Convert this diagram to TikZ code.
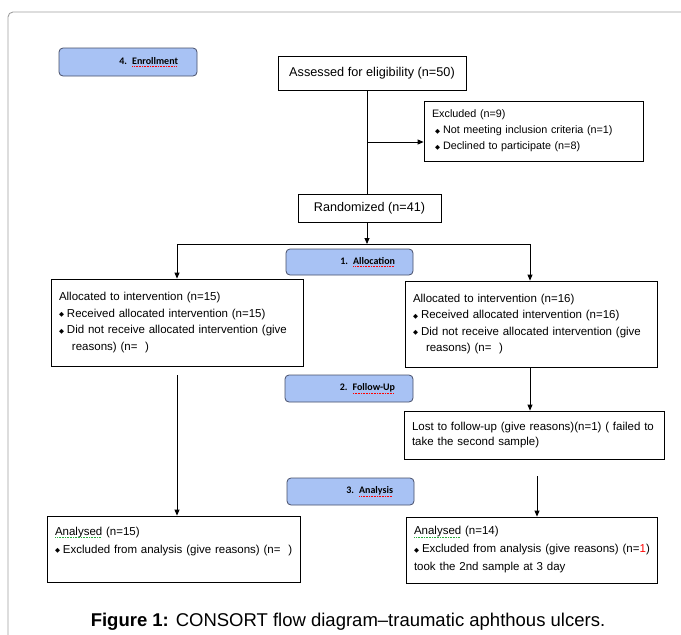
\documentclass[tikz,border=0pt]{standalone}
\usepackage{fontspec}
\setmainfont{Liberation Sans}
\newfontfamily\dejavu{DejaVu Sans}
\newfontfamily\carlito{Carlito}
\usetikzlibrary{arrows.meta}
\definecolor{stagefill}{RGB}{168,194,244}
\definecolor{stageedge}{RGB}{70,78,105}
\definecolor{framegray}{RGB}{160,160,160}
\definecolor{spellgreen}{RGB}{40,170,60}
\newcommand\bul{\raisebox{0.6pt}{\fontsize{6.5}{6.5}\selectfont\dejavu ◆}\hspace{3pt}}
\newsavebox\wavebox
\newcommand\wavy[2]{\sbox\wavebox{#2}\rlap{\usebox\wavebox}{\color{#1}\raisebox{-2.2pt}{\hbox to \wd\wavebox{\leaders\hbox to 1.6pt{\hss\rule{0.9pt}{0.6pt}\hss}\hfill}}}}
\newcommand\redwave[1]{\wavy{red}{#1}}
\newcommand\greenwave[1]{\wavy{spellgreen}{#1}}
\tikzset{
  box/.style={draw=black, line width=0.8pt, fill=white, inner sep=0pt,
    font=\fontsize{11.5}{16.5}\selectfont},
  txtbox/.style={box, align=left, inner xsep=8pt},
  stagebox/.style={draw=stageedge, line width=0.8pt, fill=stagefill, rounded corners=4pt,
    font=\carlito\bfseries\fontsize{10}{10}\selectfont, align=right, inner sep=0pt},
  arr/.style={line width=0.8pt, -{Triangle[length=6pt,width=5pt]}},
  ln/.style={line width=0.8pt}
}
\begin{document}
\begin{tikzpicture}[x=1pt,y=-1pt]
\useasboundingbox (0,0) rectangle (681,635);
\begin{scope}
\clip (0,0) rectangle (681,635);
\draw[framegray, line width=0.9pt, rounded corners=5pt] (8,12) rectangle (700,660);
\end{scope}

% stage labels
\node[stagebox, minimum width=138pt, minimum height=28pt, text width=100pt] (enr) at (128,62) {4. \redwave{Enrollment}};
\node[stagebox, minimum width=127pt, minimum height=26pt, text width=91pt] (alloc) at (349.5,262) {1. \redwave{Allocation}};
\node[stagebox, minimum width=128pt, minimum height=27pt, text width=92pt] (fu) at (349,388.5) {2. \redwave{Follow-Up}};
\node[stagebox, minimum width=127pt, minimum height=27pt, text width=85pt] (an) at (350.5,491.5) {3. \redwave{Analysis}};

% boxes
\node[box, minimum width=188pt, minimum height=34pt, font=\fontsize{12.7}{15}\selectfont] (assess) at (372,73) {Assessed for eligibility (n=50)};
\node[txtbox, minimum width=219pt, minimum height=60pt, text width=203pt, font=\fontsize{10.8}{16}\selectfont] (excl) at (533.5,131)
  {\mbox{Excluded (n=9)}\\ \mbox{\hspace{3pt}\bul Not meeting inclusion criteria (n=1)}\\ \mbox{\hspace{3pt}\bul Declined to participate (n=8)}};
\node[box, minimum width=143pt, minimum height=28pt, font=\fontsize{12.6}{15}\selectfont] (rand) at (369.5,208) {Randomized (n=41)};

\node[txtbox, minimum width=252pt, minimum height=87pt, text width=236pt] (la) at (177,322.5)
  {\mbox{Allocated to intervention (n=15)}\\ \mbox{\bul Received allocated intervention (n=15)}\\ \mbox{\bul Did not receive allocated intervention (give}\\ \mbox{\hspace{13pt}reasons) (n=\ \ )}};
\node[txtbox, minimum width=252pt, minimum height=86pt, text width=236pt] (ra) at (531,324)
  {\mbox{Allocated to intervention (n=16)}\\ \mbox{\bul Received allocated intervention (n=16)}\\ \mbox{\bul Did not receive allocated intervention (give}\\ \mbox{\hspace{13pt}reasons) (n=\ \ )}};

\node[txtbox, minimum width=260pt, minimum height=48pt, text width=244pt, font=\fontsize{11.5}{14.5}\selectfont] (lost) at (534,435)
  {\mbox{Lost to follow-up (give reasons)(n=1) ( failed to}\\ \mbox{take the second sample)}};

\node[txtbox, minimum width=253pt, minimum height=66pt, text width=237pt, font=\fontsize{11.5}{18}\selectfont] (lan) at (173.5,549)
  {\mbox{\greenwave{Analysed} (n=15)}\\ \mbox{\bul Excluded from analysis (give reasons) (n=\ \ )}\\ \mbox{}};
\node[txtbox, minimum width=251pt, minimum height=66pt, text width=235pt, font=\fontsize{11.5}{18}\selectfont] (ran) at (531.5,550)
  {\mbox{\greenwave{Analysed} (n=14)}\\ \mbox{\bul Excluded from analysis (give reasons) (n={\color{red}1})}\\ \mbox{took the 2nd sample at 3 day}};

% connectors
\coordinate (v) at (367,142);
\coordinate (h) at (367,244);
\coordinate (hl) at (177,244);
\coordinate (hr) at (530,244);
\coordinate (l1) at (177,375);
\coordinate (r1) at (537,476);
\draw[ln] (assess.south -| v) -- (rand.north -| v);
\draw[arr] (v) -- (v -| excl.west);
\draw[arr] (rand.south -| h) -- (h);
\draw[ln] (hl) -- (hr);
\draw[arr] (hl) -- (la.north -| hl);
\draw[arr] (hr) -- (ra.north -| hr);
\draw[arr] (ra.south -| hr) -- (lost.north -| hr);
\draw[arr] (l1) -- (lan.north -| l1);
\draw[arr] (r1) -- (ran.north -| r1);

% caption
\node[font=\fontsize{18.5}{22}\selectfont] (cap) at (348,622) {\textbf{Figure 1:} CONSORT flow diagram–traumatic aphthous ulcers.};
\end{tikzpicture}
\end{document}
